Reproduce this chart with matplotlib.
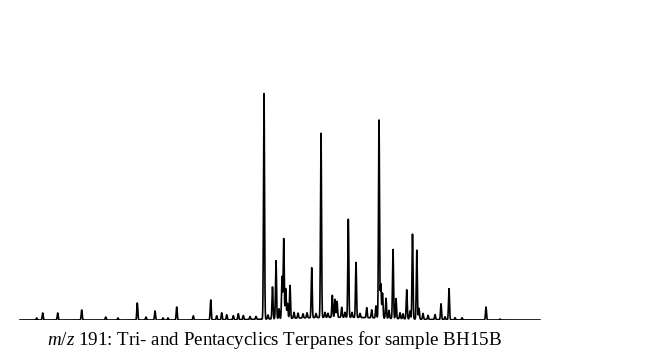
import numpy as np
import matplotlib
matplotlib.use("Agg")
import matplotlib.pyplot as plt

plt.rcParams['mathtext.fontset'] = 'custom'
plt.rcParams['mathtext.rm'] = 'Liberation Serif'
plt.rcParams['mathtext.it'] = 'Liberation Serif:italic'

# m/z 191 peak table: retention time (min) and relative abundance (%)
rt = [3.67, 4.27, 5.77, 8.17, 10.57, 11.80, 13.73, 14.60, 15.50, 16.30,
      16.80, 17.67, 19.33, 21.07, 21.67, 22.17, 22.67, 23.33, 23.83, 24.33,
      25.00, 25.60, 26.40, 26.80, 27.25, 27.60, 27.90, 28.20, 28.37, 28.57,
      28.75, 29.00, 29.40, 29.80, 30.30, 30.70, 31.17, 31.60, 32.10, 32.50,
      32.80, 33.23, 33.50, 33.70, 34.17, 34.50, 34.83, 35.20, 35.60, 36.00,
      36.67, 37.17, 37.60, 37.90, 38.08, 38.25, 38.60, 38.90, 39.30, 39.60,
      40.00, 40.30, 40.67, 41.00, 41.25, 41.68, 41.90, 42.30, 42.80, 43.50,
      44.10, 44.50, 44.90, 45.50, 46.20, 48.60, 50.00]
abund = [0.9, 3.1, 3.1, 4.4, 1.3, 0.9, 7.5, 1.3, 4.0, 0.9,
         0.9, 5.7, 1.8, 8.8, 1.8, 3.1, 2.2, 1.8, 2.6, 1.8,
         1.3, 1.3, 100.0, 1.8, 14.1, 25.6, 4.4, 18.5, 35.2, 13.2,
         6.6, 14.5, 2.6, 2.2, 1.8, 2.2, 22.0, 1.8, 81.1, 2.2,
         1.8, 9.7, 7.9, 7.0, 4.4, 2.2, 43.2, 2.2, 24.2, 1.8,
         4.4, 3.5, 5.3, 87.2, 15.0, 11.0, 8.8, 3.5, 30.4, 8.8,
         2.6, 2.2, 12.8, 3.5, 37.4, 30.4, 4.8, 2.6, 1.8, 2.2,
         7.0, 1.3, 13.7, 0.9, 0.9, 5.7, 0.4]

# unresolved hump under the hopane region
hump_rt = [34.0]
hump_abund = [1.2]
hump_width = [5.0]

t_start, t_end = 2.0, 54.0
peak_sigma = 0.05

t = np.arange(t_start, t_end, 0.01)
signal = np.zeros_like(t)
for r, a in zip(rt, abund):
    signal += a * np.exp(-0.5 * ((t - r) / peak_sigma) ** 2)
for r, a, w in zip(hump_rt, hump_abund, hump_width):
    signal += a * np.exp(-0.5 * ((t - r) / w) ** 2)

fig = plt.figure(figsize=(6.56, 3.57), dpi=100)
ax = fig.add_axes([0, 0.1036, 1, 0.6359])
ax.plot(t, signal, color='black', lw=1.2)
ax.set_xlim(0, 65.6)
ax.set_ylim(0, 100)
ax.axis('off')

fig.text(0.419, 0.048, r'$\it{m/z}$ 191: Tri- and Pentacyclics Terpanes for sample BH15B',
         ha='center', va='center', fontsize=13.7, family='Liberation Serif')

fig.savefig('out.png', dpi=100)
